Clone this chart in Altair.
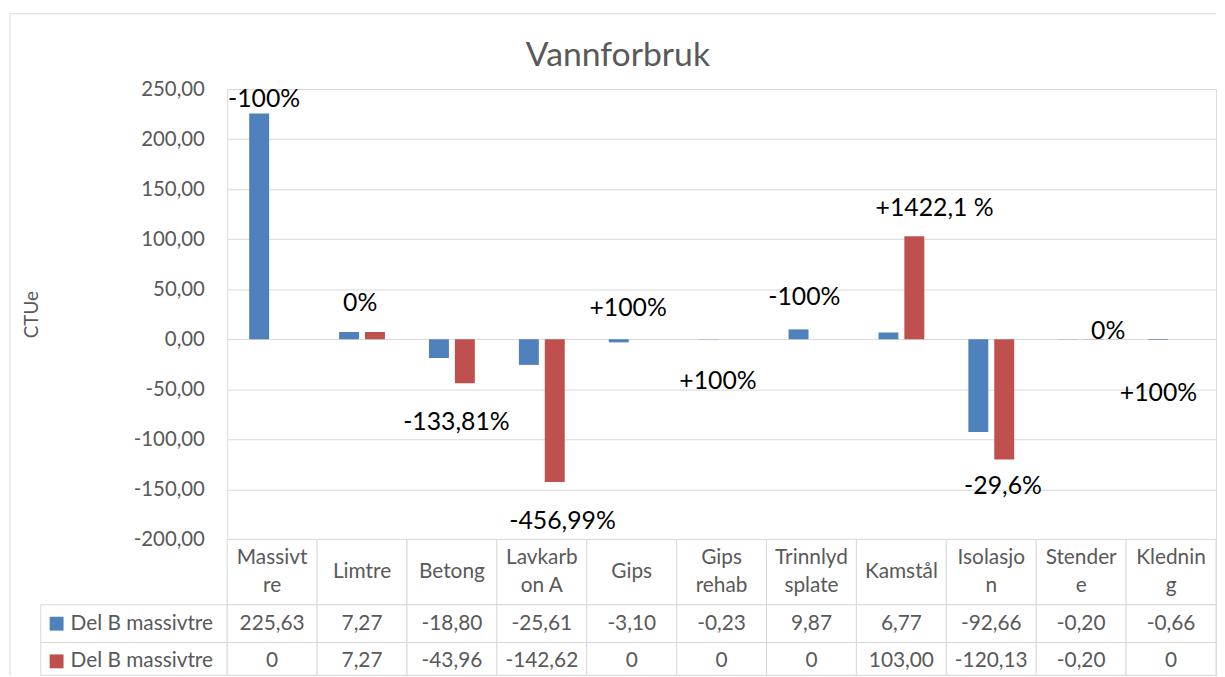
import altair as alt
import pandas as pd

# ---------------- data ----------------
categories = ["Massivtre", "Limtre", "Betong", "Lavkarbon A", "Gips", "Gips rehab",
              "Trinnlydsplate", "Kamstål", "Isolasjon", "Stendere", "Kledning"]
header_line1 = ["Massivt", "Limtre", "Betong", "Lavkarb", "Gips", "Gips",
                "Trinnlyd", "Kamstål", "Isolasjo", "Stender", "Klednin"]
header_line2 = ["re", "", "", "on A", "", "rehab", "splate", "", "n", "e", "g"]
series_ids = ["s1", "s2"]
series_names = ["Del B massivtre", "Del B massivtre"]
blue_values = [225.63, 7.27, -18.80, -25.61, -3.10, -0.23, 9.87, 6.77, -92.66, -0.20, -0.66]
red_values = [0, 7.27, -43.96, -142.62, 0, 0, 0, 103.00, -120.13, -0.20, 0]

change_labels = ["-100%", "0%", "-133,81%", "-456,99%", "+100%", "+100%", "-100%",
                 "+1422,1 %", "-29,6%", "0%", "+100%"]
# label anchors: x in category units, y in CTUe
label_x = [0.41, 1.48, 2.55, 3.73, 4.46, 5.46, 6.42, 7.87, 8.63, 9.80, 10.36]
label_y = [240.0, 35.7, -82.3, -181.4, 30.7, -41.6, 42.6, 130.8, -146.7, 7.9, -53.5]

y_ticks = [-200, -150, -100, -50, 0, 50, 100, 150, 200, 250]

# ---------------- style ----------------
FONT = "Lato"
TXT = "#595959"
GRID = "#d9d9d9"
BLUE = "#4f81bd"
RED = "#c0504d"
W = 997
H = 454
FRAME_X = -219
FRAME_TOP = -76
TABLE_FS = 21

bars_df = pd.DataFrame({
    "category": categories * 2,
    "series": [series_ids[0]] * len(categories) + [series_ids[1]] * len(categories),
    "value": blue_values + red_values,
})
lab_df = pd.DataFrame({"lx": label_x, "ly": label_y, "label": change_labels})
one = pd.DataFrame({"k": [0]})

x_band = alt.Scale(domain=categories, paddingInner=0, paddingOuter=0)
y_scale = alt.Scale(domain=[-200, 250], nice=False, zero=False)
x_enc = alt.X("category:N", sort=categories, scale=x_band, axis=None)

bars = alt.Chart(bars_df).mark_bar().encode(
    x=x_enc,
    xOffset=alt.XOffset("series:N", scale=alt.Scale(domain=series_ids, paddingInner=0.23, paddingOuter=0.85)),
    y=alt.Y("value:Q", scale=y_scale,
            axis=alt.Axis(values=y_ticks, format=".2f", title="CTUe", grid=True,
                          gridColor=GRID, gridWidth=1, domain=False, ticks=False, tickSize=0,
                          labelPadding=23, labelFont=FONT, labelFontSize=20.5, labelColor=TXT,
                          titleFont=FONT, titleFontSize=19, titleFontWeight="normal",
                          titleColor=TXT, titlePadding=89, minExtent=98, maxExtent=98)),
    color=alt.Color("series:N", scale=alt.Scale(domain=series_ids, range=[BLUE, RED]), legend=None),
)

labels = alt.Chart(lab_df).mark_text(font=FONT, fontSize=25, color="#000000", baseline="middle").encode(
    x=alt.X("lx:Q", scale=alt.Scale(domain=[0, 11], nice=False, zero=False), axis=None),
    y=alt.Y("ly:Q", scale=y_scale),
    text="label:N",
)

# outer chart frame (light grey border of the chart area)
frame_left_top = alt.Chart(one).mark_rule(color=GRID, strokeWidth=1).encode(
    x=alt.value(FRAME_X), y=alt.value(FRAME_TOP), y2=alt.value(H))
frame_top = alt.Chart(one).mark_rule(color=GRID, strokeWidth=1).encode(
    x=alt.value(FRAME_X), x2=alt.value(W), y=alt.value(FRAME_TOP))

top = alt.layer(frame_left_top, frame_top, bars, labels).resolve_scale(x="independent").properties(
    width=W, height=H)

# ---------------- data table ----------------
HDR_H = 66
LINE_H = 29
hdr_df = pd.DataFrame({"category": categories, "l1": header_line1, "l2": header_line2})
hdr_cells = alt.Chart(hdr_df).mark_rect(fill="white", stroke=GRID, strokeWidth=1).encode(x=x_enc)
hdr_base = alt.Chart(hdr_df).mark_text(font=FONT, fontSize=TABLE_FS, color=TXT, baseline="middle")
hdr_single = hdr_base.transform_filter("datum.l2 == ''").encode(
    x=x_enc, y=alt.value(HDR_H / 2), text="l1:N")
hdr_first = hdr_base.transform_filter("datum.l2 != ''").encode(
    x=x_enc, y=alt.value(HDR_H / 2 - LINE_H / 2), text="l1:N")
hdr_second = hdr_base.transform_filter("datum.l2 != ''").encode(
    x=x_enc, y=alt.value(HDR_H / 2 + LINE_H / 2), text="l2:N")
hdr_frame = alt.Chart(one).mark_rule(color=GRID, strokeWidth=1).encode(
    x=alt.value(FRAME_X), y=alt.value(0), y2=alt.value(HDR_H))
header = alt.layer(hdr_frame, hdr_cells, hdr_single, hdr_first, hdr_second).properties(
    width=W, height=HDR_H)


def table_row(values, name, color, height, text_y):
    df = pd.DataFrame({"category": categories, "v": values})
    cells = alt.Chart(df).mark_rect(fill="white", stroke=GRID, strokeWidth=1).encode(x=x_enc)
    txt = alt.Chart(df).transform_calculate(
        lab="datum.v === 0 ? '0' : format(datum.v, '.2f')"
    ).mark_text(font=FONT, fontSize=TABLE_FS, color=TXT, baseline="middle").encode(
        x=x_enc, y=alt.value(text_y), text="lab:N")
    ldf = pd.DataFrame({"name": [name]})
    lcell = alt.Chart(ldf).mark_rect(fill="white", stroke=GRID, strokeWidth=1).encode(
        x=alt.value(-188), x2=alt.value(0), y=alt.value(0), y2=alt.value(height))
    swatch = alt.Chart(ldf).mark_rect(fill=color).encode(
        x=alt.value(-179), x2=alt.value(-165), y=alt.value(text_y - 7), y2=alt.value(text_y + 7))
    ltxt = alt.Chart(ldf).mark_text(font=FONT, fontSize=TABLE_FS, color=TXT, align="left",
                                    baseline="middle").encode(
        x=alt.value(-158), y=alt.value(text_y), text="name:N")
    frame = alt.Chart(one).mark_rule(color=GRID, strokeWidth=1).encode(
        x=alt.value(FRAME_X), y=alt.value(0), y2=alt.value(height))
    return alt.layer(frame, lcell, cells, swatch, ltxt, txt).properties(width=W, height=height)


row1 = table_row(blue_values, series_names[0], BLUE, 38, 19)
row2 = table_row(red_values, series_names[1], RED, 33, 19)

chart = alt.vconcat(top, header, row1, row2, spacing=0, bounds="flush").properties(
    title=alt.TitleParams("Vannforbruk", font=FONT, fontSize=34, fontWeight="normal",
                          color=TXT, anchor="middle", offset=-61, dx=5),
    padding={"left": 1, "top": 2, "right": 0, "bottom": 0},
    background="white",
).configure_view(stroke=None).configure(
    locale={"number": {"decimal": ",", "thousands": "\u00a0", "grouping": [3],
                       "currency": ["", " kr"], "minus": "-"}}
)

chart.save("out.html", embed_options={"renderer": "svg", "actions": False})
